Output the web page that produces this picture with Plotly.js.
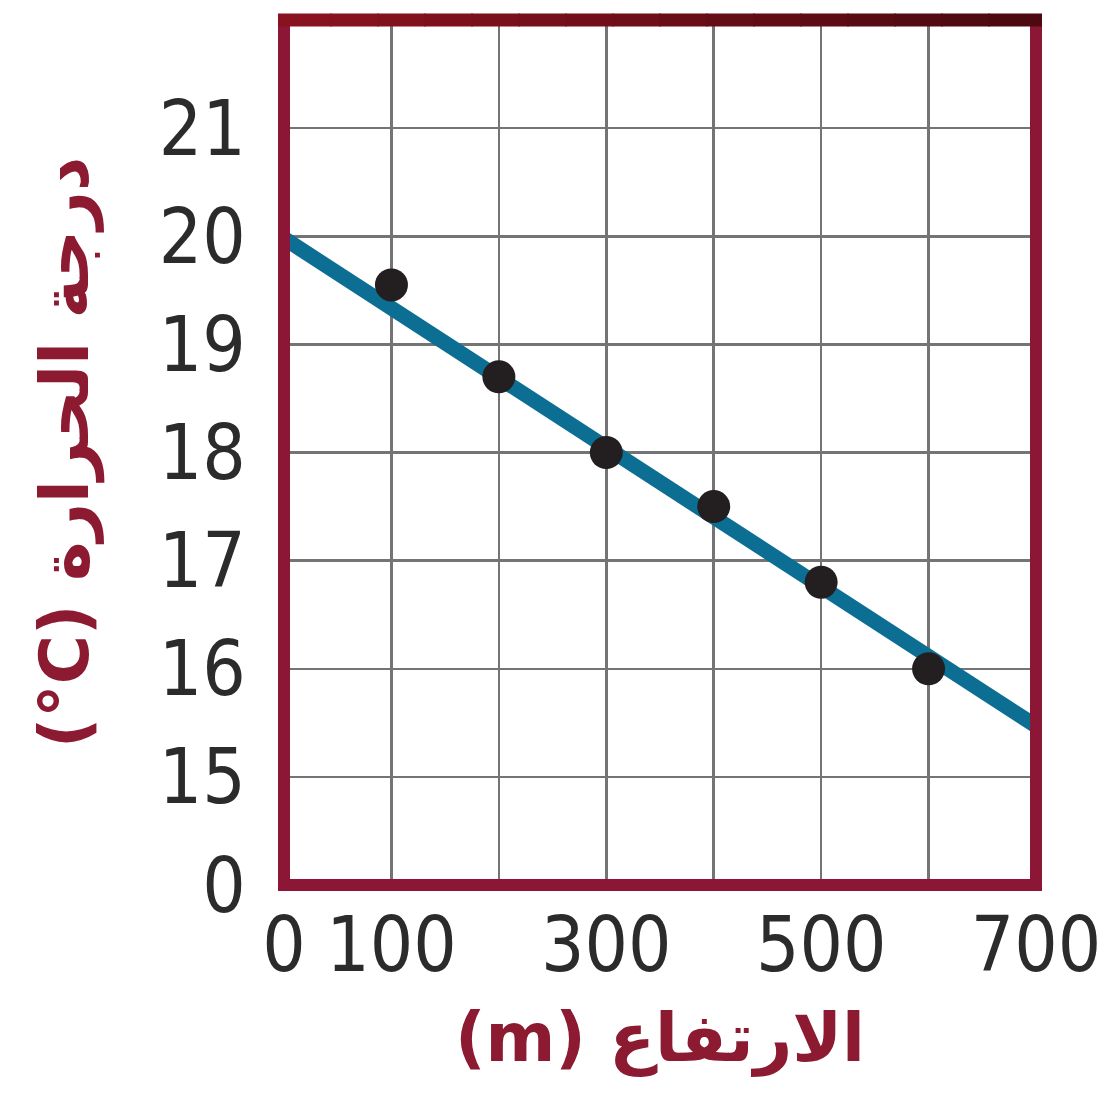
<!DOCTYPE html>
<html>
<head>
<meta charset="utf-8">
<script src="https://cdn.plot.ly/plotly-3.0.1.min.js"></script>
<style>html,body{margin:0;padding:0;background:#fff;}#chart{width:1115px;height:1102px;}</style>
</head>
<body>
<div id="chart"></div>
<script>
// Data
const altitude = [100, 200, 300, 400, 500, 600];           // m
const temperature = [19.55, 18.7, 18.0, 17.5, 16.8, 16.0];  // °C
const fitAltitude = [0, 700];
const fitTemperature = [19.98, 15.47];

const xTickValues = [0, 100, 200, 300, 400, 500, 600, 700];
const xTickLabels = ['0', '100', '', '300', '', '500', '', '700'];
const yTickTemps = [0, 15, 16, 17, 18, 19, 20, 21];
const yTickLabels = ['0', '15', '16', '17', '18', '19', '20', '21'];

// broken y axis: 0, then 15..21 spaced one step apart
const yBase = 14;
const toAxis = t => (t === 0 ? 0 : t - yBase);

const crimson = '#8c1636';
const tickFont = {family: '"Liberation Sans Narrow", "DejaVu Sans Condensed", "Liberation Sans", sans-serif', size: 76, color: '#2b2b2b'};
const titleFont = {family: '"DejaVu Sans", sans-serif', size: 67, color: '#8c1a30', weight: 'bold'};

const traces = [
  {
    x: fitAltitude, y: fitTemperature.map(toAxis),
    mode: 'lines', type: 'scatter', cliponaxis: true,
    line: {color: '#0d6e93', width: 15},
    hoverinfo: 'skip', showlegend: false
  },
  {
    x: altitude, y: temperature.map(toAxis),
    mode: 'markers', type: 'scatter',
    marker: {color: '#231f20', size: 33, line: {width: 0}},
    showlegend: false
  }
];

// top edge gradient segments (dark red to near black)
const topShapes = [];
const nSeg = 16;
const half = 6.5 / 865;
for (let i = 0; i < nSeg; i++) {
  const f = i / (nSeg - 1);
  const r = Math.round(138 - 62 * f), g = Math.round(18 - 9 * f), b = Math.round(32 - 16 * f);
  topShapes.push({type: 'rect', xref: 'paper', yref: 'paper',
    x0: i / nSeg - (i === 0 ? 0.008 : 0.001), x1: (i + 1) / nSeg + (i === nSeg - 1 ? 0.008 : 0.001),
    y0: 1 - half, y1: 1 + half,
    line: {width: 0}, fillcolor: `rgb(${r},${g},${b})`, layer: 'above'});
}

const layout = {
  width: 1115, height: 1102,
  margin: {l: 284, r: 79, t: 20, b: 217},
  paper_bgcolor: '#ffffff', plot_bgcolor: '#ffffff',
  xaxis: {
    range: [0, 700], tickvals: xTickValues, ticktext: xTickLabels,
    ticks: '', ticklabelstandoff: 9,
    showgrid: true, gridcolor: '#747474', gridwidth: 2.5,
    zeroline: false, showline: false, tickfont: tickFont,
    title: {text: '(m) الارتفاع', font: titleFont, standoff: 26},
    fixedrange: true
  },
  yaxis: {
    range: [0, 8], tickvals: yTickTemps.map(toAxis), ticktext: yTickLabels,
    ticks: 'outside', ticklen: 22, tickcolor: 'rgba(0,0,0,0)',
    showgrid: true, gridcolor: '#747474', gridwidth: 2.5,
    zeroline: false, showline: false, tickfont: tickFont,
    title: {text: '(°C) درجة الحرارة', font: titleFont, standoff: 48},
    fixedrange: true
  },
  shapes: [
    {type: 'rect', xref: 'paper', yref: 'paper', x0: 0, x1: 1, y0: 0, y1: 1,
      line: {color: crimson, width: 12}, layer: 'above'}
  ].concat(topShapes),
  showlegend: false
};

Plotly.newPlot('chart', traces, layout, {displayModeBar: false, staticPlot: true});
</script>
</body>
</html>
